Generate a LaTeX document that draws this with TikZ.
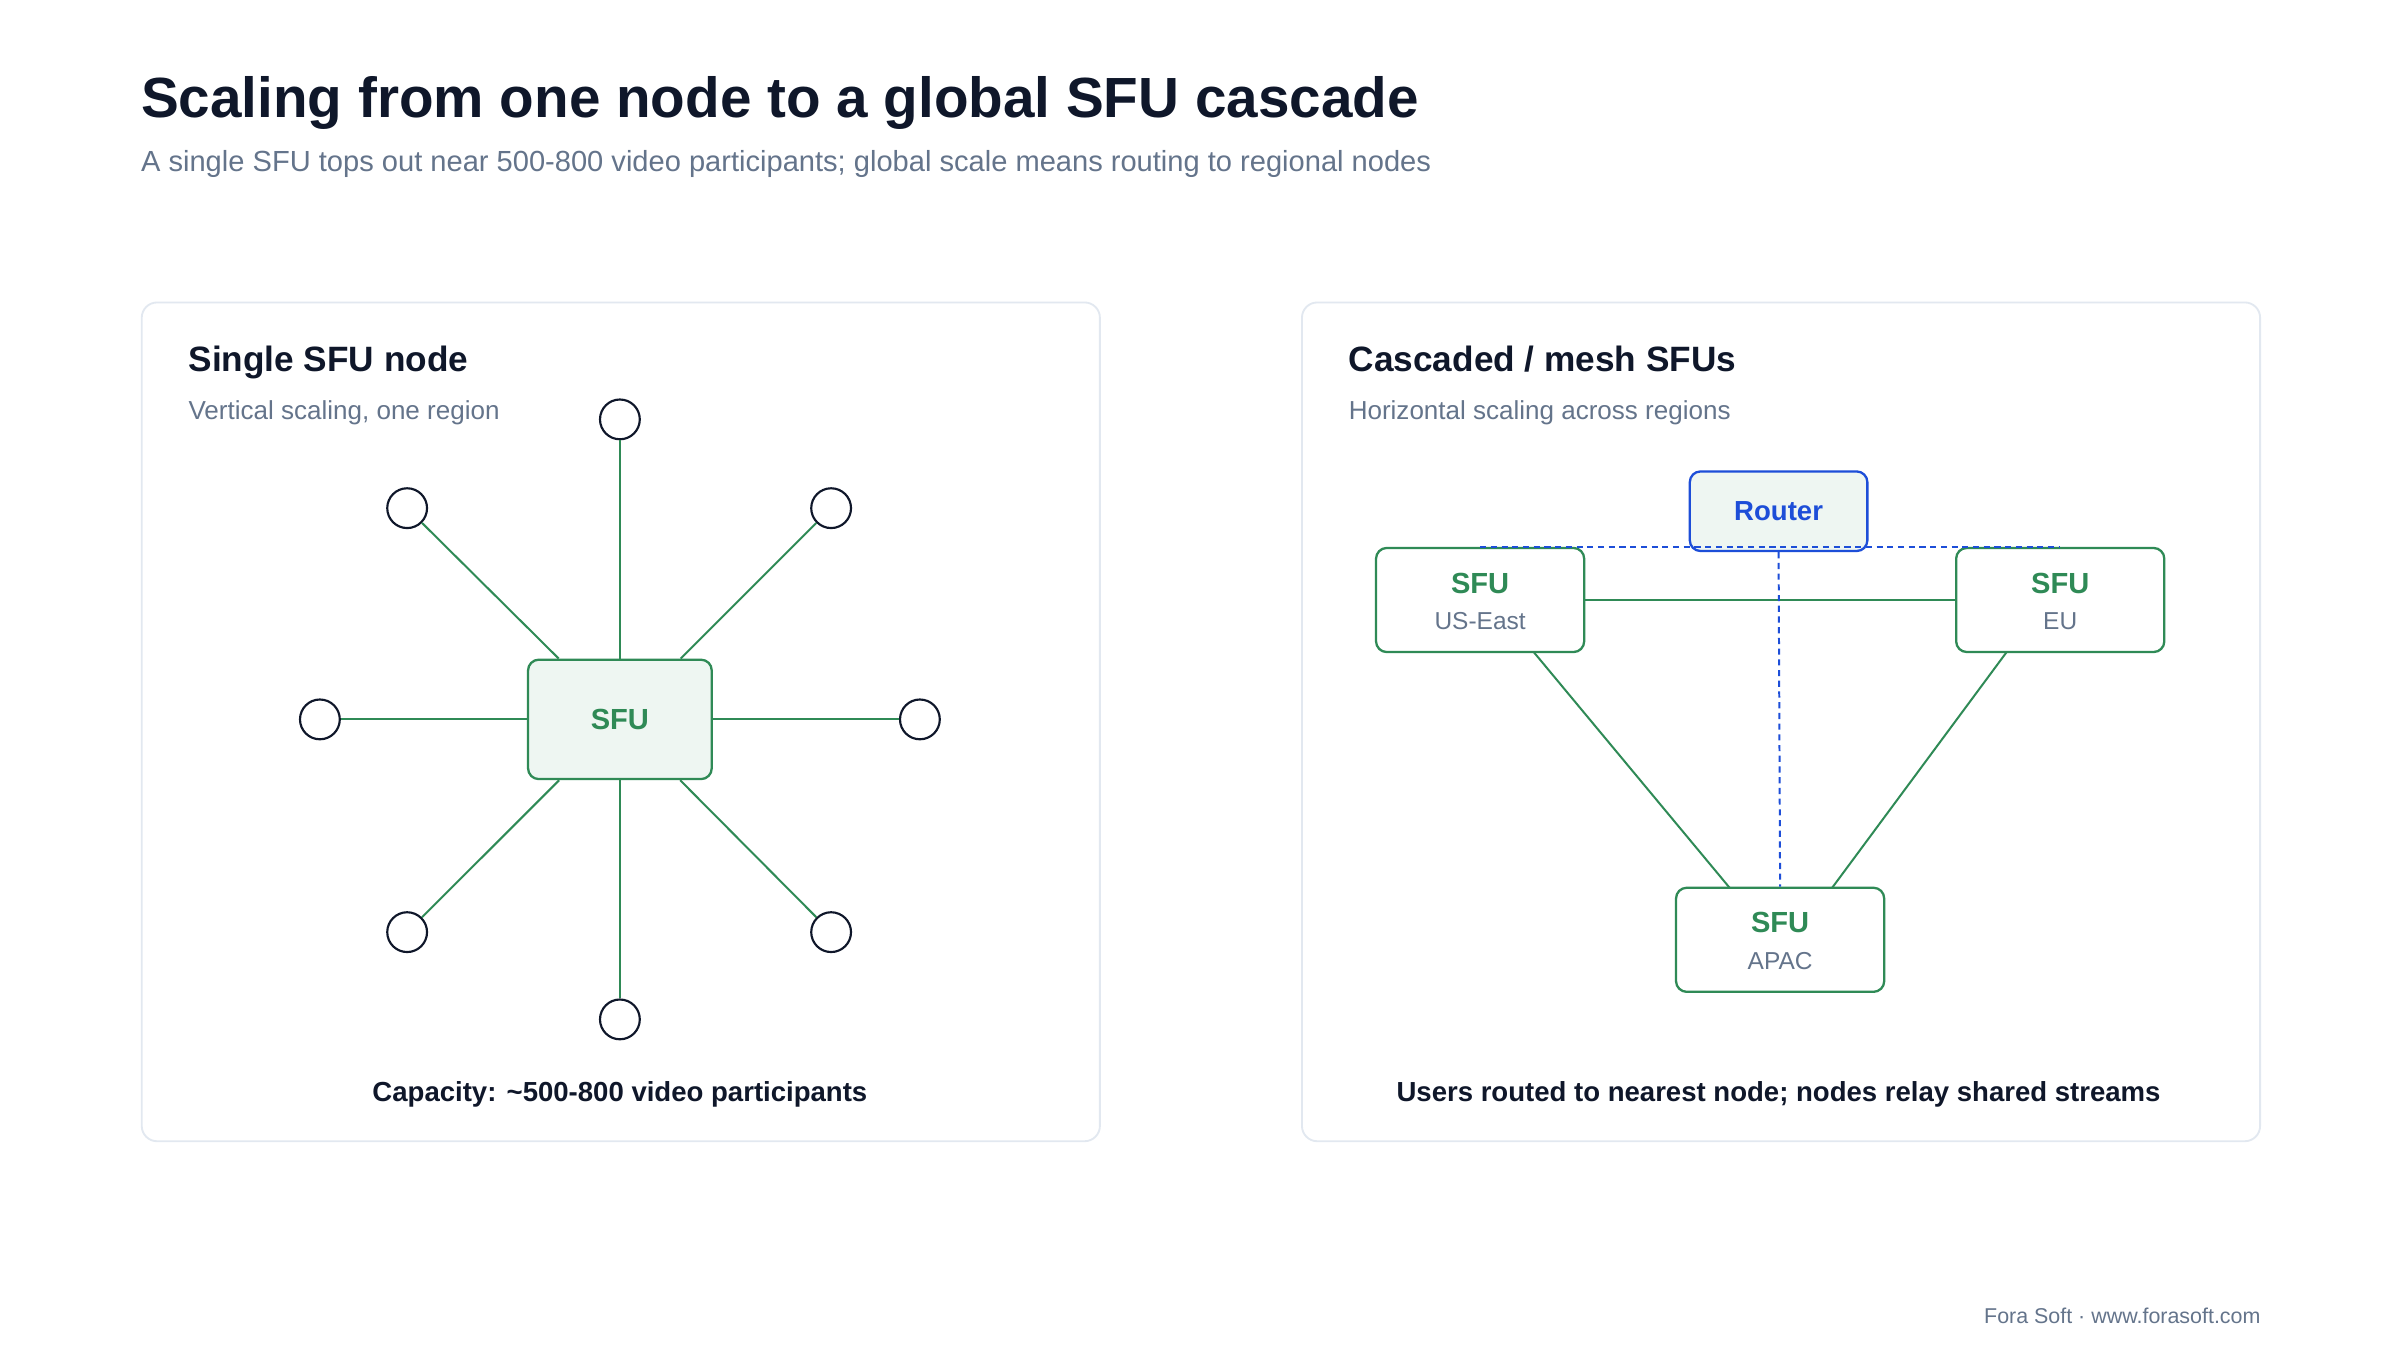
\documentclass[tikz,border=0pt]{standalone}
\usepackage{fontspec}
\setmainfont{Liberation Sans}
\begin{document}
\definecolor{ink}{HTML}{0F172A}
\definecolor{muted}{HTML}{64748B}
\definecolor{edge}{HTML}{E2E8F0}
\definecolor{grn}{HTML}{2F8A56}
\definecolor{gfill}{HTML}{EEF6F2}
\definecolor{blu}{HTML}{1D4ED8}
\begin{tikzpicture}[x=1pt,y=-1pt,
  panel/.style={draw=edge,line width=1.2pt,rounded corners=10pt,fill=white},
  sfu/.style={draw=grn,line width=1.5pt,rounded corners=7pt,align=center,inner sep=0pt},
  peer/.style={circle,draw=ink,line width=1.4pt,minimum size=26pt,inner sep=0pt,fill=white},
  link/.style={draw=grn,line width=1.3pt},
  dlink/.style={draw=blu,line width=1.3pt,dash pattern=on 4pt off 3pt},
  lbl/.style={font=\fontsize{19}{22}\selectfont\bfseries,text=grn},
  sub/.style={font=\fontsize{16}{19}\selectfont,text=muted}]
\fill[white] (0,0) rectangle (1568,888);
\useasboundingbox (0,0) rectangle (1568,888);
\node[anchor=base west,text=ink,font=\fontsize{37}{40}\selectfont\bfseries,inner sep=0] (title) at (92,77) {Scaling from one node to a global SFU cascade};
\node[anchor=base west,text=muted,font=\fontsize{19}{22}\selectfont,inner sep=0] (subtitle) at (92,112) {A single SFU tops out near 500-800 video participants; global scale means routing to regional nodes};
% panels
\node[panel,minimum width=626pt,minimum height=548pt,anchor=north west] (lp) at (92,197) {};
\node[panel,minimum width=626pt,minimum height=548pt,anchor=north west] (rp) at (850,197) {};
\node[anchor=base west,text=ink,font=\fontsize{23}{26}\selectfont\bfseries,inner sep=0] (lt) at (123,243) {Single SFU node};
\node[anchor=base west,text=muted,font=\fontsize{17}{20}\selectfont,inner sep=0] (ls) at (123,274) {Vertical scaling, one region};
\node[anchor=base west,text=ink,font=\fontsize{23}{26}\selectfont\bfseries,inner sep=0] (rt) at (881,243) {Cascaded / mesh SFUs};
\node[anchor=base west,text=muted,font=\fontsize{17}{20}\selectfont,inner sep=0] (rs) at (881,274) {Horizontal scaling across regions};
% left star
\node[peer] (p1) at (405,274) {};
\node[peer] (p2) at (543,332) {};
\node[peer] (p3) at (601,470) {};
\node[peer] (p4) at (543,609) {};
\node[peer] (p5) at (405,666) {};
\node[peer] (p6) at (266,609) {};
\node[peer] (p7) at (209,470) {};
\node[peer] (p8) at (266,332) {};
\node[sfu,fill=gfill,minimum width=120pt,minimum height=78pt,lbl] (hub) at (405,470) {SFU};
\foreach \p in {p1,p2,p3,p4,p5,p6,p7,p8} \draw[link] (hub) -- (\p);
\node[text=ink,font=\fontsize{18}{21}\selectfont\bfseries] (lc) at (405,715) {Capacity: \textasciitilde500-800 video participants};
% right cascade
\node[sfu,fill=white,minimum width=136pt,minimum height=68pt] (us) at (967,392) {};
\node[sfu,fill=white,minimum width=136pt,minimum height=68pt] (eu) at (1346,392) {};
\node[sfu,fill=white,minimum width=136pt,minimum height=68pt] (ap) at (1163,614) {};
\node[lbl] at (967,381) {SFU}; \node[sub] at (967,406) {US-East};
\node[lbl] at (1346,381) {SFU}; \node[sub] at (1346,406) {EU};
\node[lbl] at (1163,603) {SFU}; \node[sub] at (1163,628) {APAC};
\draw[link] (us) -- (eu);
\draw[link] (1002,426) -- (1130,580);
\draw[link] (1311,426) -- (1197,580);
\node[draw=blu,line width=1.5pt,rounded corners=7pt,fill=gfill,minimum width=116pt,minimum height=52pt,text=blu,font=\fontsize{18}{21}\selectfont\bfseries] (router) at (1162,334) {Router};
\draw[dlink] (us.north) -- (eu.north);
\draw[dlink] (router.south) -- (ap.north);
\node[text=ink,font=\fontsize{18}{21}\selectfont\bfseries] (rc) at (1162,715) {Users routed to nearest node; nodes relay shared streams};
\node[anchor=base east,text=muted,font=\fontsize{14}{17}\selectfont,inner sep=0] (foot) at (1477,865) {Fora Soft · www.forasoft.com};
\end{tikzpicture}
\end{document}
